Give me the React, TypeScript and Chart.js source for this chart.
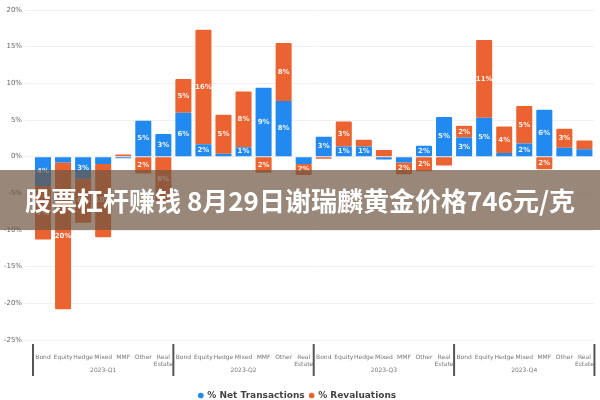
import React, { useEffect, useRef } from "react";
import { Chart, registerables } from "chart.js";

Chart.register(...registerables);

const categories = ["Bond", "Equity", "Hedge", "Mixed", "MMF", "Other", ["Real", "Estate"]];
const groups = ["2023-Q1", "2023-Q2", "2023-Q3", "2023-Q4"];

const netTransactions = [
  -4.0, -0.8, -3.0, -1.0, -0.2, 4.9, 3.1,
  6.0, 1.7, 0.4, 1.3, 9.4, 7.6, -1.0,
  2.7, 1.4, 1.4, -0.4, -0.8, 1.5, 5.4,
  2.6, 5.3, 0.5, 1.8, 6.4, 1.2, 1.0,
];
const revaluations = [
  -7.3, -20.0, -6.0, -10.0, 0.3, -2.3, -6.0,
  4.6, 15.6, 5.3, 7.6, -2.2, 7.9, -1.5,
  -0.3, 3.4, 0.9, 0.9, -1.6, -2.0, -1.2,
  1.6, 10.6, 3.6, 5.1, -1.7, 2.6, 1.2,
];
const yTicks = [20, 15, 10, 5, 0, -5, -10, -15, -20, -25];

const title = "股票杠杆赚钱 8月29日谢瑞麟黄金价格746元/克";

const labels: (string | string[])[] = [];
groups.forEach(() => categories.forEach((c) => labels.push(c)));

const barLabelPlugin = {
  id: "barLabels",
  afterDatasetsDraw(chart: any) {
    const ctx = chart.ctx;
    ctx.save();
    ctx.font = "bold 7px 'DejaVu Sans', sans-serif";
    ctx.fillStyle = "rgba(255,255,255,0.9)";
    ctx.textAlign = "center";
    ctx.textBaseline = "middle";
    chart.data.datasets.forEach((ds: any, di: number) => {
      const meta = chart.getDatasetMeta(di);
      meta.data.forEach((el: any, i: number) => {
        const v = ds.data[i];
        const h = Math.abs(el.base - el.y);
        if (h >= 9) {
          ctx.fillText(`${Math.round(Math.abs(v)) || 1}%`, el.x, (el.y + el.base) / 2);
        }
      });
    });
    ctx.restore();
  },
};

const groupPlugin = {
  id: "groupLabels",
  afterDraw(chart: any) {
    const ctx = chart.ctx;
    const x = chart.scales.x;
    const area = chart.chartArea;
    const n = categories.length;
    ctx.save();
    ctx.strokeStyle = "#555";
    ctx.lineWidth = 2;
    const step = x.getPixelForValue(1) - x.getPixelForValue(0);
    const bounds: number[] = [];
    for (let g = 0; g <= groups.length; g++) {
      let px: number;
      if (g === 0) px = x.getPixelForValue(0) - step / 2;
      else if (g === groups.length) px = x.getPixelForValue(g * n - 1) + step / 2;
      else px = (x.getPixelForValue(g * n - 1) + x.getPixelForValue(g * n)) / 2;
      bounds.push(px);
      ctx.beginPath();
      ctx.moveTo(px, area.bottom + 4);
      ctx.lineTo(px, area.bottom + 36);
      ctx.stroke();
    }
    ctx.font = "6px 'DejaVu Sans', sans-serif";
    ctx.fillStyle = "#777";
    ctx.textAlign = "center";
    ctx.textBaseline = "middle";
    groups.forEach((g, i) => {
      ctx.fillText(g, (bounds[i] + bounds[i + 1]) / 2, area.bottom + 30);
    });
    ctx.restore();
  },
};

export default function App() {
  const ref = useRef<HTMLCanvasElement | null>(null);

  useEffect(() => {
    document.body.style.margin = "0";
    const chart = new Chart(ref.current as HTMLCanvasElement, {
      type: "bar",
      data: {
        labels,
        datasets: [
          {
            label: "% Net Transactions",
            data: netTransactions,
            backgroundColor: "#2189ef",
            borderRadius: 1,
            borderSkipped: false,
          },
          {
            label: "% Revaluations",
            data: revaluations,
            backgroundColor: "#ea6330",
            borderRadius: 1,
            borderSkipped: false,
          },
        ],
      },
      options: {
        animation: false,
        responsive: false,
        maintainAspectRatio: false,
        layout: { padding: { top: 10, right: 5, left: 0, bottom: -10 } },
        datasets: { bar: { categoryPercentage: 0.8, barPercentage: 1 } },
        scales: {
          x: {
            stacked: true,
            grid: { display: false },
            border: { display: false },
            ticks: {
              autoSkip: false,
              maxRotation: 0,
              font: { size: 6, family: "'DejaVu Sans', sans-serif" },
              color: "#777",
              padding: 6,
            },
            afterFit(scale: any) {
              scale.height = 46;
            },
          },
          y: {
            stacked: true,
            min: -25,
            max: 20,
            afterBuildTicks(scale: any) {
              scale.ticks = yTicks.map((v) => ({ value: v }));
            },
            afterFit(scale: any) {
              scale.width = 33;
            },
            grid: { color: "#f0f0f0" },
            border: { display: false },
            ticks: {
              font: { size: 7, family: "'DejaVu Sans', sans-serif" },
              color: "#666",
              callback: (v: any) => `${v}%`,
            },
          },
        },
        plugins: {
          legend: {
            position: "bottom",
            labels: {
              usePointStyle: true,
              pointStyle: "circle",
              boxWidth: 4,
              boxHeight: 4,
              padding: 5,
              color: "#444",
              font: { size: 9, weight: "bold", family: "'DejaVu Sans', sans-serif" },
            },
          },
          tooltip: { enabled: false },
        },
      },
      plugins: [barLabelPlugin, groupPlugin],
    } as any);
    return () => chart.destroy();
  }, []);

  return (
    <div style={{ position: "relative", width: 600, height: 400, background: "#fff" }}>
      <canvas ref={ref} width={600} height={400} style={{ display: "block" }} />
      <div
        style={{
          position: "absolute",
          left: 0,
          top: 170,
          width: 600,
          height: 60,
          background: "rgba(110,85,65,0.7)",
          color: "#fff",
          fontFamily: "'Noto Sans CJK SC', sans-serif",
          fontWeight: 700,
          fontSize: 26,
          lineHeight: "60px",
          textAlign: "center",
          whiteSpace: "nowrap",
        }}
      >
        {title}
      </div>
    </div>
  );
}
